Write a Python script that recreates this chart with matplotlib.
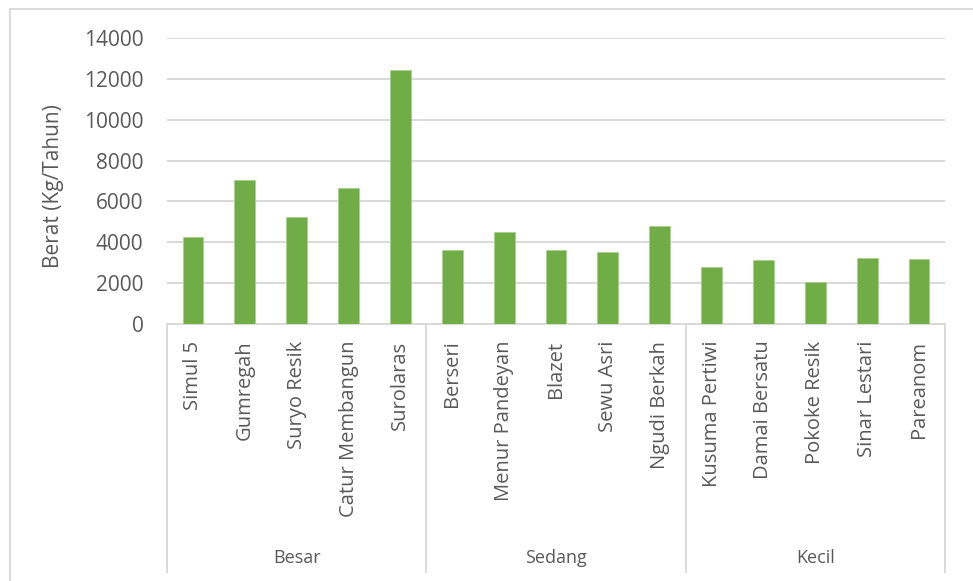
import matplotlib.pyplot as plt
import matplotlib.transforms as mtransforms
from matplotlib.lines import Line2D

# data
groups = ["Besar", "Sedang", "Kecil"]
names = ["Simul 5", "Gumregah", "Suryo Resik", "Catur Membangun", "Surolaras",
         "Berseri", "Menur Pandeyan", "Blazet", "Sewu Asri", "Ngudi Berkah",
         "Kusuma Pertiwi", "Damai Bersatu", "Pokoke Resik", "Sinar Lestari", "Pareanom"]
values = [4250, 7030, 5230, 6650, 12430,
          3630, 4500, 3630, 3520, 4810,
          2790, 3110, 2040, 3240, 3160]
group_size = [5, 5, 5]

plt.rcParams['font.family'] = ['Open Sans', 'DejaVu Sans']
text_col = "#595959"
grid_col = "#D9D9D9"

fig = plt.figure(figsize=(9.73, 5.81), dpi=100)
ax = fig.add_axes([167 / 973, 1 - 324 / 581, 778 / 973, 286 / 581])

x = list(range(len(names)))
ax.bar(x, values, width=0.4, color="#70AD47", edgecolor="#A9D18E", linewidth=0.6, zorder=3)

ax.set_ylim(0, 14000)
ax.set_yticks(range(0, 14001, 2000))
ax.set_xlim(-0.5, len(names) - 0.5)
ax.yaxis.grid(True, color=grid_col, linewidth=1.4, zorder=0)
for s in ["top", "right", "left"]:
    ax.spines[s].set_visible(False)
ax.spines["bottom"].set_color(grid_col)
ax.spines["bottom"].set_linewidth(1.4)

ax.set_xticks(x)
ax.set_xticklabels(names, rotation=90, fontsize=14.5, color=text_col)
ax.tick_params(axis="x", length=0, pad=12)
ax.tick_params(axis="y", length=0, pad=17, labelsize=15, labelcolor=text_col)

ax.set_ylabel("Berat (Kg/Tahun)", fontsize=15, color=text_col)
ax.yaxis.set_label_coords(-0.133, 0.483)

# group separators and labels below the axis
trans = mtransforms.blended_transform_factory(ax.transData, ax.transAxes)
edges = [-0.5]
for n in group_size:
    edges.append(edges[-1] + n)
for e in edges:
    ax.plot([e, e], [0, -0.867], transform=trans, color=grid_col, lw=1.4, clip_on=False)
for i, g in enumerate(groups):
    mid = (edges[i] + edges[i + 1]) / 2
    ax.text(mid, -0.818, g, transform=trans, ha="center", va="center",
            fontsize=13, color=text_col)

# chart area border (top and left visible)
fig.add_artist(Line2D([10 / 973, 10 / 973], [0, 1 - 9 / 581], color=grid_col, lw=1.3))
fig.add_artist(Line2D([10 / 973, 1], [1 - 9 / 581, 1 - 9 / 581], color=grid_col, lw=1.3))

fig.savefig("out.png", dpi=100)
